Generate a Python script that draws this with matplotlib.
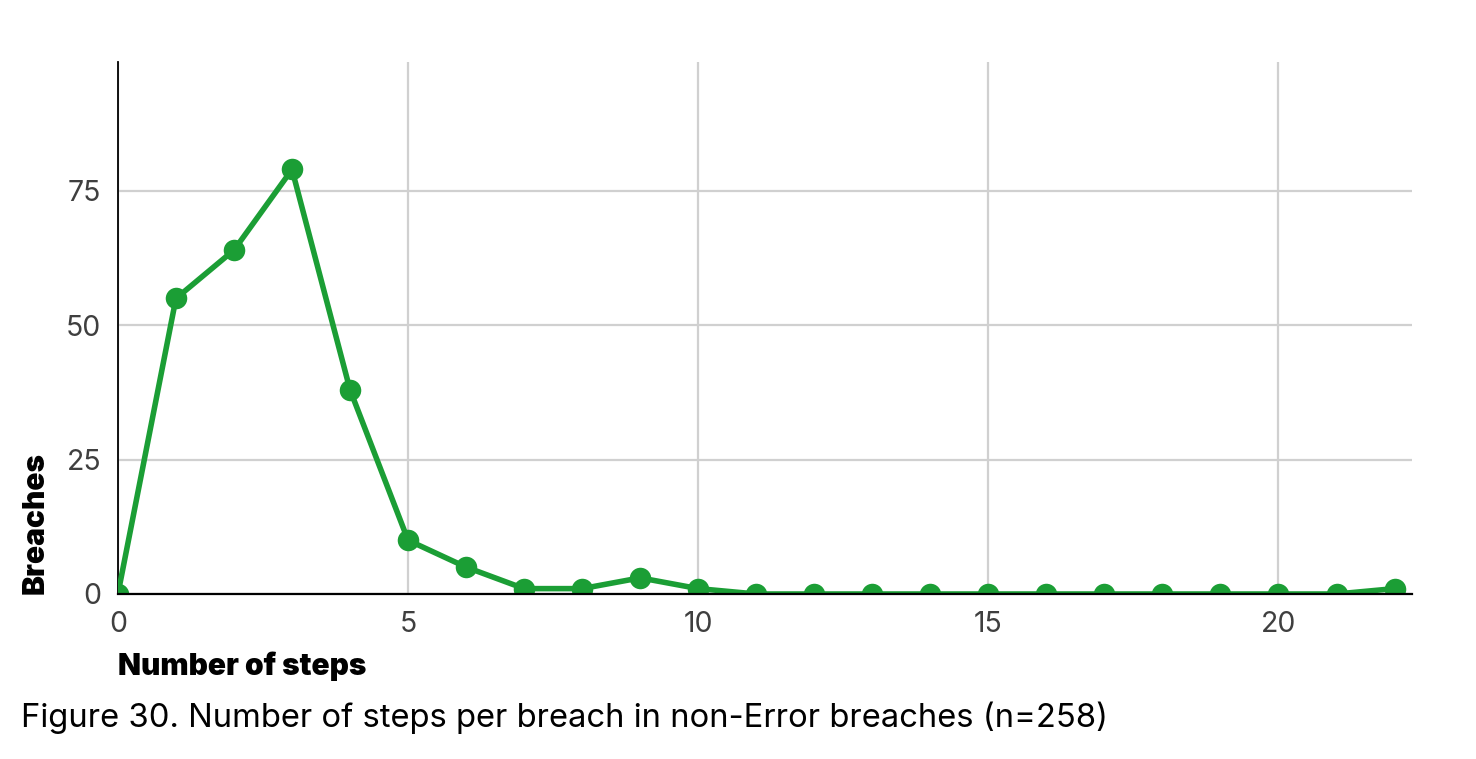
import numpy as np
import matplotlib
matplotlib.use('Agg')
import matplotlib.pyplot as plt

plt.rcParams['font.family'] = ['Inter', 'DejaVu Sans']

# data
steps = list(range(0, 23))
breaches = [0, 55, 64, 79, 38, 10, 5, 1, 1, 3, 1, 0, 0, 0, 0, 0, 0, 0, 0, 0, 0, 0, 1]
x_ticks = [0, 5, 10, 15, 20]
y_ticks = [0, 25, 50, 75]

green = '#1b9e35'
grid_col = '#d0d0d0'
tick_col = '#3f3f3f'

fig = plt.figure(figsize=(14.76, 7.59), dpi=100)
ax = fig.add_axes([0.0799, 0.2174, 0.8767, 0.7009])

ax.plot(steps, breaches, color=green, linewidth=4, marker='o',
        markersize=15.5, markeredgewidth=0, zorder=3)

ax.set_xlim(0, 22.3)
ax.set_ylim(0, 99)
ax.set_xticks(x_ticks)
ax.set_yticks(y_ticks)
ax.grid(True, color=grid_col, linewidth=1.6)
ax.set_axisbelow(True)

for s in ['top', 'right']:
    ax.spines[s].set_visible(False)
ax.spines['left'].set_color('black')
ax.spines['left'].set_linewidth(1.3)
ax.spines['bottom'].set_color('black')
ax.spines['bottom'].set_linewidth(1.6)
ax.spines['bottom'].set_zorder(5)

ax.tick_params(axis='both', length=0, labelsize=20.5, labelcolor=tick_col)
ax.tick_params(axis='x', pad=12)
ax.tick_params(axis='y', pad=12)

fig.text(0.024, 0.217, 'Breaches', rotation=90, fontsize=21.5, fontweight='black',
         ha='center', va='bottom')
fig.text(0.0799, 0.122, 'Number of steps', fontsize=21.5, fontweight='black',
         ha='left', va='center', color='black')
fig.text(0.014, 0.054, 'Figure 30. Number of steps per breach in non-Error breaches (n=258)',
         fontsize=23.6, ha='left', va='center', color='black')

fig.savefig('out.png', dpi=100)
